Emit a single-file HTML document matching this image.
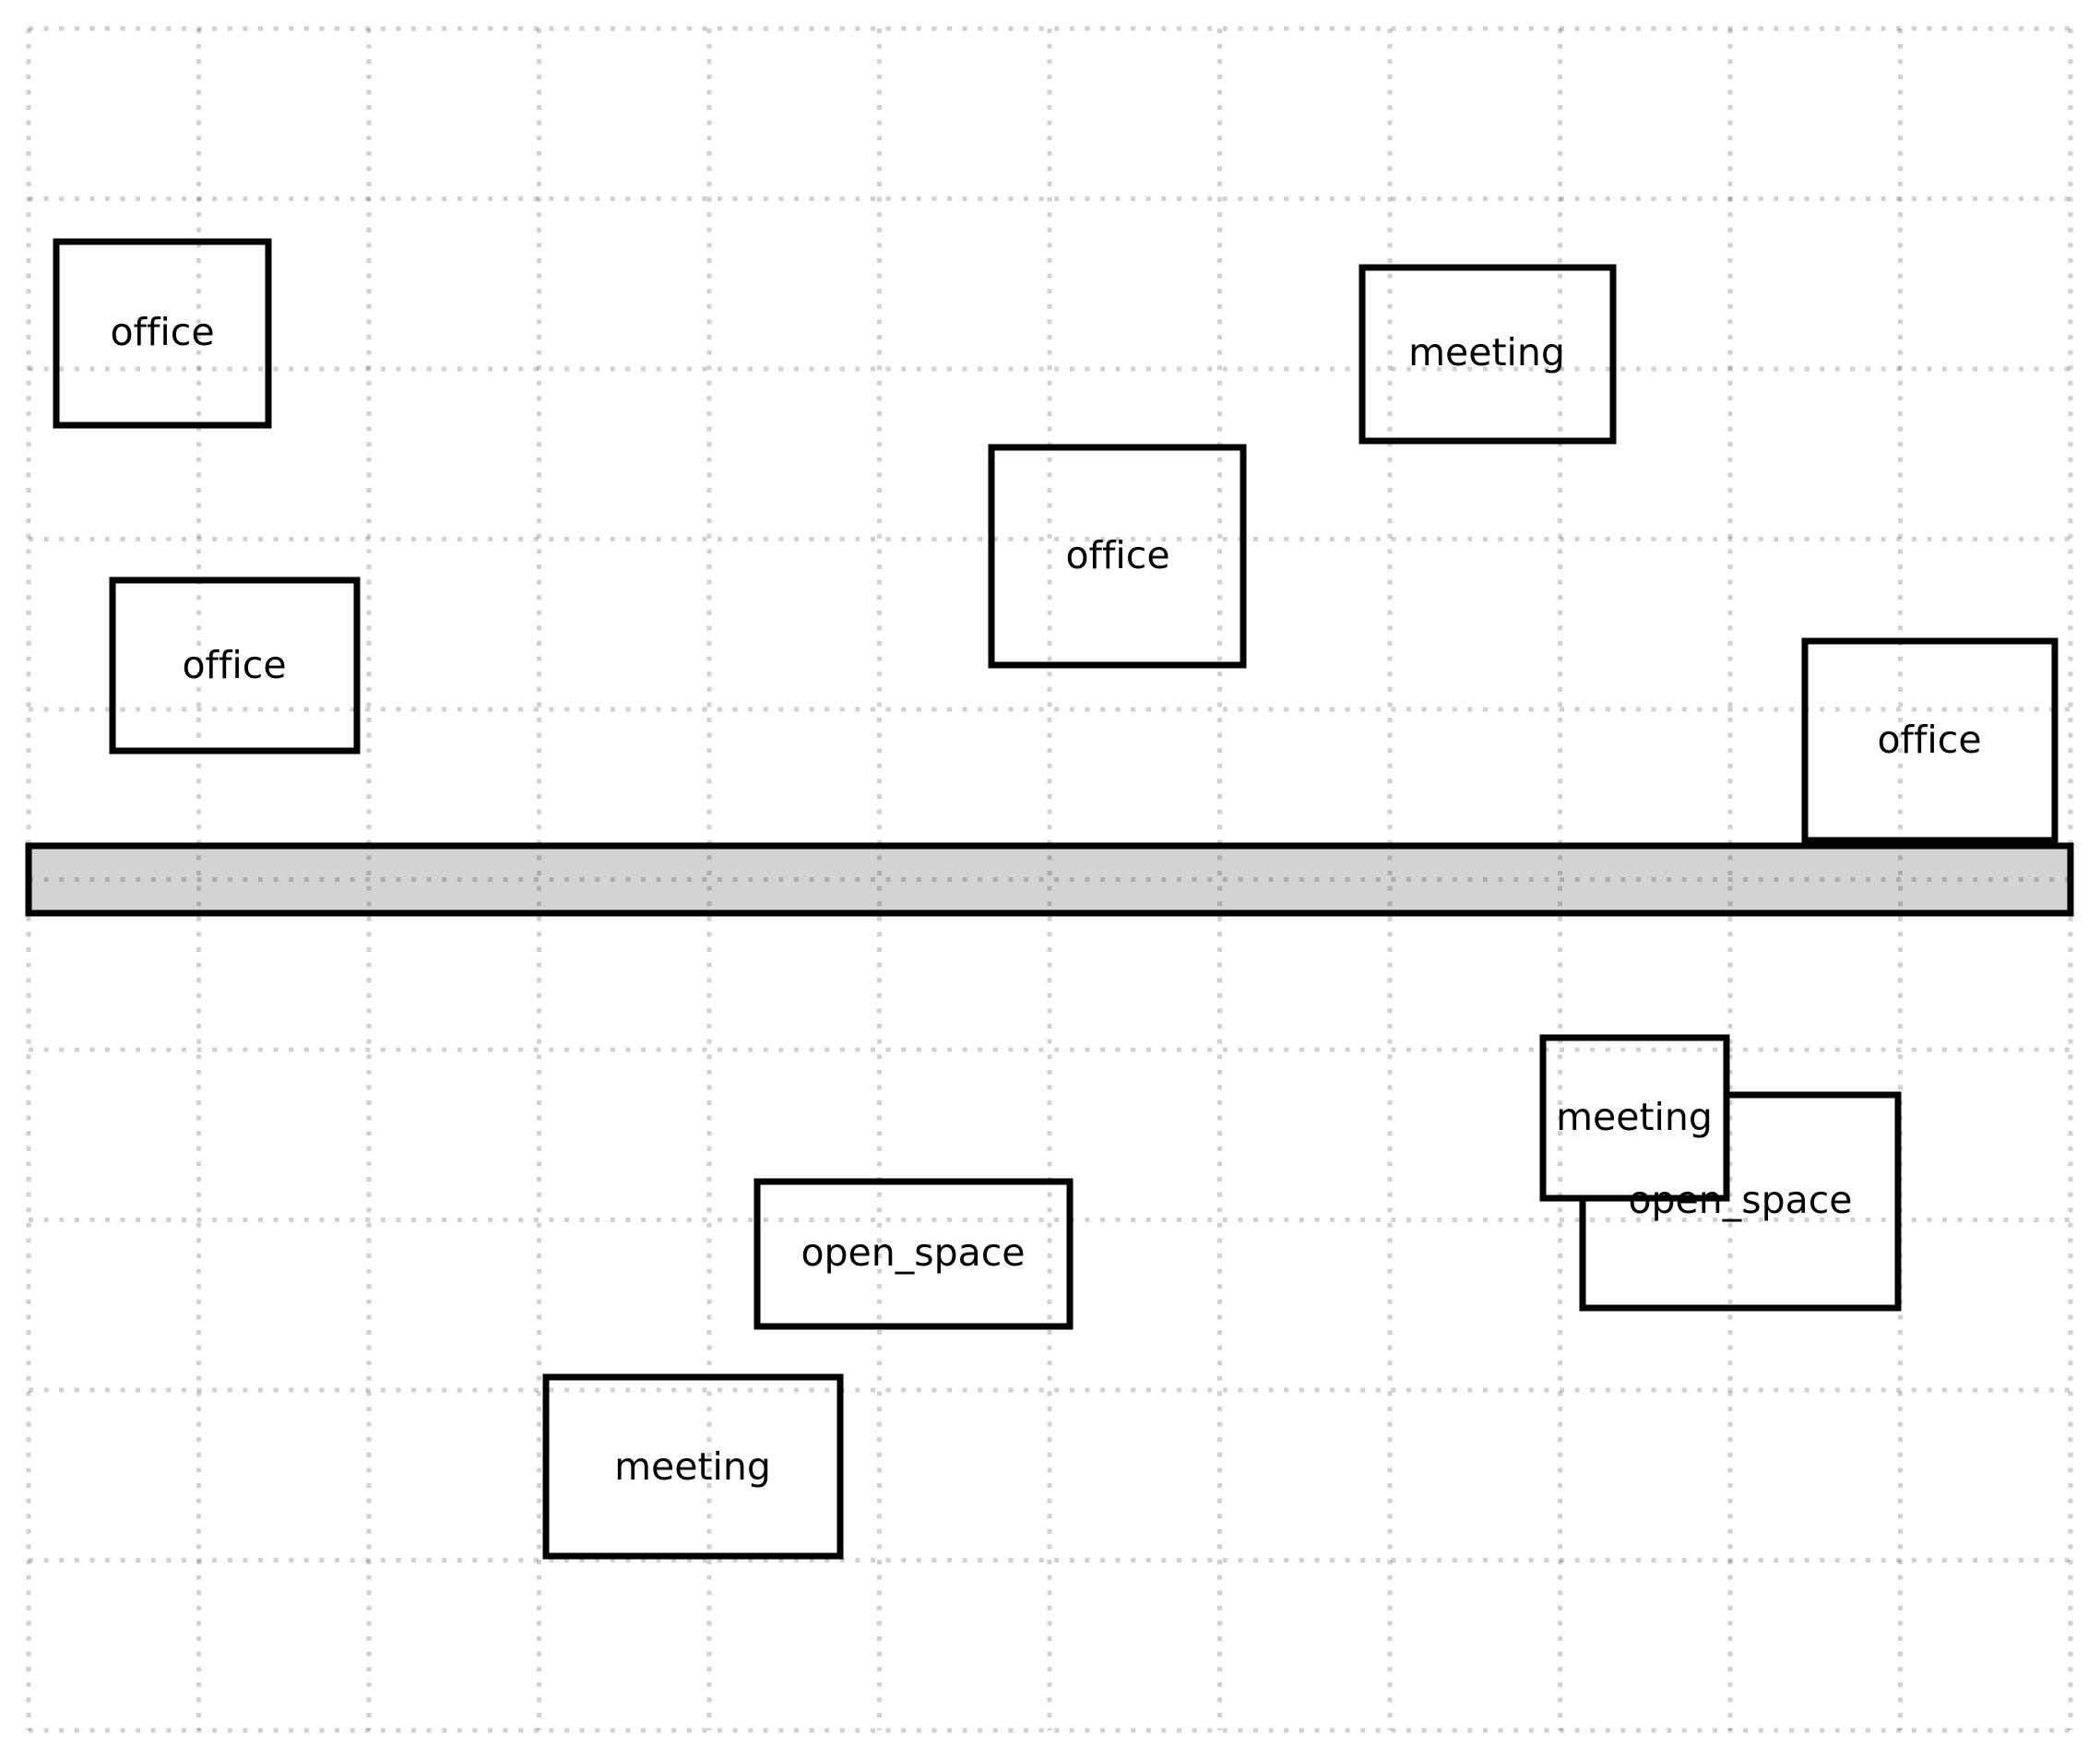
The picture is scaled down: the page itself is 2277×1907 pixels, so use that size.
<!DOCTYPE html>
<html><head><meta charset="utf-8"><style>html,body{margin:0;padding:0;background:#fff;}svg{display:block;}text{font-variant-ligatures:none;font-feature-settings:"liga" 0;}</style></head>
<body>
<svg width="2277" height="1907" viewBox="0 0 2277 1907" xmlns="http://www.w3.org/2000/svg">
<rect x="0" y="0" width="2277" height="1907" fill="#fff"/>
<g stroke="#000" stroke-width="7" fill="#fff">
<rect x="31" y="917" width="2214" height="73" fill="#d3d3d3"/>
<rect x="61" y="262" width="230" height="199"/>
<rect x="122" y="629" width="265" height="185"/>
<rect x="1075" y="485" width="273" height="236"/>
<rect x="1477" y="290" width="272" height="188"/>
<rect x="1957" y="695" width="271" height="216"/>
<rect x="821" y="1281" width="339" height="157"/>
<rect x="592" y="1493" width="319" height="194"/>
<rect x="1716" y="1187" width="342" height="231"/>
<rect x="1673" y="1125" width="199" height="174"/>
</g>
<g stroke="rgba(0,0,0,0.18)" stroke-width="5" stroke-dasharray="5 11.6" fill="none">
<path d="M31 31V1876M215.5 31V1876M400 31V1876M584.5 31V1876M769 31V1876M953.5 31V1876M1138 31V1876M1322.5 31V1876M1507 31V1876M1691.5 31V1876M1876 31V1876M2060.5 31V1876M2245 31V1876"/>
<path d="M31 31H2245M31 215.5H2245M31 400H2245M31 584.5H2245M31 769H2245M31 953.5H2245M31 1138H2245M31 1322.5H2245M31 1507H2245M31 1691.5H2245M31 1876H2245"/>
</g>
<g font-family="'DejaVu Sans','Liberation Sans',sans-serif" font-size="41" text-anchor="middle" dominant-baseline="central" fill="#000">
<text x="176" y="360">office</text>
<text x="254" y="721">office</text>
<text x="1212" y="602">office</text>
<text x="1612" y="382">meeting</text>
<text x="2092" y="802">office</text>
<text x="990" y="1358">open_space</text>
<text x="751" y="1590">meeting</text>
<text x="1887" y="1301">open_space</text>
<text x="1772" y="1211">meeting</text>
</g>
</svg>
</body></html>
